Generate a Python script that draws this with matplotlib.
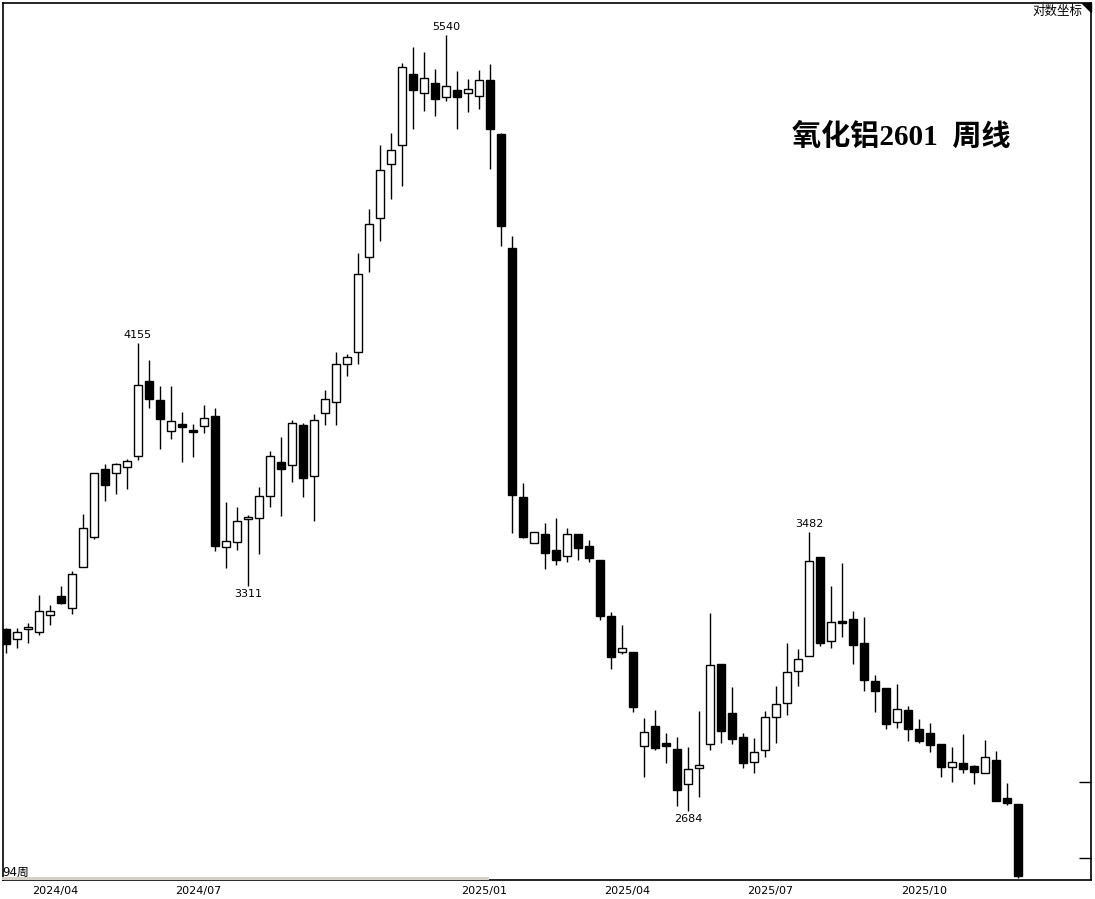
import matplotlib
matplotlib.use("Agg")
import matplotlib.pyplot as plt
from matplotlib.patches import Rectangle, Polygon
from matplotlib.lines import Line2D
from matplotlib.ticker import NullLocator

# weekly candles, alumina 2601
opens = [3182, 3152, 3182, 3173, 3225, 3281, 3244, 3371, 3468, 3694,
         3681, 3701, 3738, 4011, 3940, 3827, 3852, 3831, 3845, 3881,
         3435, 3451, 3526, 3529, 3603, 3717, 3707, 3849, 3670, 3892,
         3933, 4074, 4121, 4502, 4669, 4911, 4999, 5341, 5247, 5297,
         5228, 5262, 5247, 5233, 5312, 5051, 4540, 3599, 3448, 3477,
         3425, 3406, 3477, 3438, 3393, 3222, 3114, 3114, 2852, 2906,
         2860, 2844, 2753, 2794, 2858, 3079, 2941, 2877, 2809, 2842,
         2931, 2969, 3060, 3102, 3402, 3146, 3206, 3212, 3140, 3031,
         3012, 2917, 2950, 2898, 2887, 2858, 2796, 2807, 2799, 2781,
         2815, 2717, 2702]
highs = [3185, 3185, 3200, 3284, 3253, 3312, 3358, 3542, 3681, 3711,
         3715, 3728, 4155, 4089, 3992, 3992, 3895, 3852, 3922, 3910,
         3582, 3565, 3539, 3633, 3756, 3806, 3867, 3856, 3888, 3977,
         4119, 4112, 4518, 4708, 4999, 5055, 5396, 5478, 5452, 5366,
         5540, 5356, 5317, 5361, 5391, 5055, 4592, 3647, 3484, 3513,
         3529, 3497, 3477, 3458, 3393, 3234, 3194, 3114, 2928, 2950,
         2887, 2877, 2850, 2947, 3229, 3079, 3014, 2887, 2874, 2947,
         3017, 3140, 3122, 3482, 3402, 3312, 3383, 3237, 3218, 3048,
         3012, 3023, 2961, 2925, 2914, 2858, 2850, 2885, 2801, 2869,
         2839, 2755, 2702]
lows = [3111, 3126, 3140, 3164, 3194, 3256, 3228, 3371, 3461, 3586,
        3609, 3626, 3724, 3910, 3763, 3799, 3720, 3735, 3820, 3422,
        3368, 3425, 3311, 3412, 3565, 3535, 3650, 3599, 3519, 3849,
        3849, 4030, 4074, 4440, 4570, 4753, 4812, 5074, 5159, 5135,
        5208, 5074, 5154, 5169, 4888, 4549, 3480, 3464, 3448, 3365,
        3377, 3387, 3393, 3387, 3208, 3065, 3108, 2944, 2771, 2842,
        2807, 2696, 2684, 2719, 2842, 2860, 2858, 2794, 2781, 2823,
        2860, 2936, 3017, 3102, 3131, 3126, 3158, 3079, 3003, 2944,
        2898, 2901, 2866, 2860, 2836, 2771, 2758, 2781, 2753, 2781,
        2709, 2699, 2521]
closes = [3137, 3173, 3188, 3235, 3237, 3259, 3349, 3497, 3681, 3640,
          3711, 3722, 3996, 3944, 3870, 3863, 3841, 3824, 3874, 3438,
          3455, 3519, 3532, 3603, 3738, 3694, 3856, 3664, 3867, 3944,
          4074, 4100, 4432, 4643, 4884, 4975, 5376, 5262, 5322, 5218,
          5282, 5228, 5267, 5312, 5074, 4635, 3606, 3468, 3484, 3416,
          3393, 3477, 3432, 3399, 3222, 3099, 3126, 2958, 2890, 2847,
          2852, 2737, 2791, 2801, 3076, 2893, 2871, 2807, 2836, 2931,
          2966, 3057, 3095, 3389, 3140, 3202, 3199, 3134, 3034, 3003,
          2912, 2953, 2898, 2866, 2855, 2796, 2809, 2791, 2783, 2823,
          2709, 2704, 2526]

# first weekly bar of each labelled month
month_idx = [4, 17, 43, 56, 69, 83]
month_labels = ['2024/04', '2024/07', '2025/01', '2025/04', '2025/07', '2025/10']

# highs / lows marked with their value
mark_idx = [12, 22, 40, 62, 73]
mark_val = [4155, 3311, 5540, 2684, 3482]
mark_top = [True, False, True, False, True]

right_ticks = [2758, 2569]

title = '氧化铝2601  周线'

W, H = 1095, 899
fig = plt.figure(figsize=(W / 100, H / 100), dpi=100)
fig.patch.set_facecolor('white')
ax = fig.add_axes([3 / W, 1 - 880 / H, 1088 / W, 877 / H])

for i, (o, h, l, c) in enumerate(zip(opens, highs, lows, closes)):
    up = c >= o
    ax.vlines(i, l, h, color='black', lw=1, zorder=1)
    lo, hi = min(o, c), max(o, c)
    if hi - lo < 4:
        hi = lo + 4
    ax.add_patch(Rectangle((i - 0.4, lo), 0.8, hi - lo,
                           facecolor='white' if up else 'black',
                           edgecolor='black', lw=1, zorder=2))

for i, v, top in zip(mark_idx, mark_val, mark_top):
    ax.annotate(str(v), (i, v), xytext=(0, 3 if top else -3),
                textcoords='offset pixels', ha='center',
                va='bottom' if top else 'top', fontsize=8, color='black')

ax.set_yscale('log')
ax.set_ylim(2517, 5708)
ax.set_xlim(-0.273, 98.64)

ax.set_xticks([m + 0.45 for m in month_idx])
ax.set_xticklabels(month_labels)
ax.tick_params(axis='x', length=0, labelsize=8, pad=4)

ax.yaxis.tick_right()
ax.set_yticks(right_ticks)
ax.yaxis.set_minor_locator(NullLocator())
ax.tick_params(axis='y', which='major', direction='in', length=9, width=1,
               labelright=False, labelleft=False)

for s in ax.spines.values():
    s.set_linewidth(1.2)

# corner marker
ax.add_patch(Polygon([(1 - 9 / 1088, 1), (1, 1), (1, 1 - 9 / 877)],
                     closed=True, transform=ax.transAxes, color='black',
                     clip_on=False, zorder=5))

# scroll bar strip at the bottom
fig.add_artist(Line2D([3 / W, 487 / W], [1 - 878 / H, 1 - 878 / H],
                      color='#d4d0c8', lw=2.2))

fig.text(901 / W, 1 - 137 / H, title, ha='center', va='center',
         fontsize=21, fontweight='bold',
         family=['Liberation Serif', 'Noto Sans CJK SC'])
fig.text(1082 / W, 1 - 11 / H, '对数坐标', ha='right', va='center',
         fontsize=9, family=['Noto Sans CJK SC', 'DejaVu Sans'])
fig.text(2 / W, 1 - 872 / H, '94周', ha='left', va='center',
         fontsize=8.5, family=['DejaVu Sans', 'Noto Sans CJK SC'])

fig.savefig('out.png', dpi=100, facecolor='white')
